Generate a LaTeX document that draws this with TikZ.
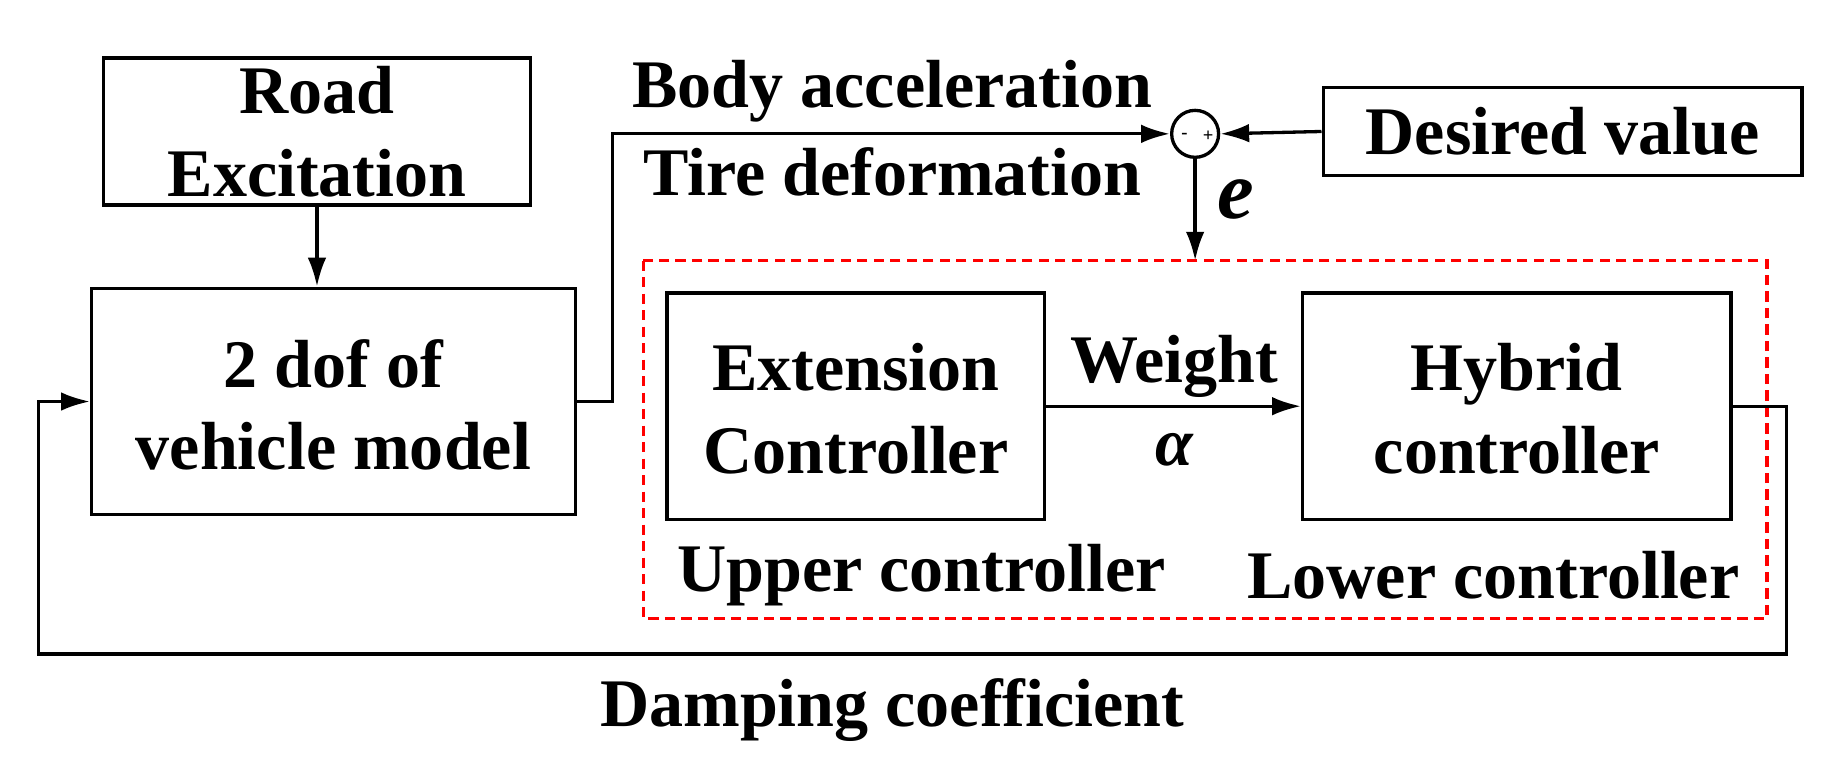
\documentclass[tikz,border=0pt]{standalone}
\usepackage{fontspec}
\setmainfont{Liberation Serif}
\usetikzlibrary{arrows.meta}
\begin{document}
\begin{tikzpicture}[x=0.02cm,y=-0.02cm,
  box/.style={draw,line width=1.6pt,inner sep=0},
  txt/.style={font=\fontsize{33}{40}\selectfont\bfseries,align=center},
  ln/.style={line width=1.6pt},
  ar/.style={ln,-{Latex[length=14pt,width=9pt]}}]
\useasboundingbox (0,0) rectangle (1569,663);
\node[box,minimum width=7.28cm,minimum height=2.5cm] (road) at (270,112) {};
\node[txt] at (270,112) {Road\\Excitation};
\node[box,minimum width=8.24cm,minimum height=3.86cm] (veh) at (284,342) {};
\node[txt] at (284,345) {2 dof of\\vehicle model};
\draw[ar] (road.south) -- (veh.north -| road.south);
\node[draw,circle,line width=1.6pt,minimum size=0.8cm,inner sep=0] (sum) at (1018,114) {};
\node[font=\bfseries\small] at (1009,116) {-};
\node[font=\bfseries\small] at (1029,116) {+};
\node[box,minimum width=8.16cm,minimum height=1.5cm] (des) at (1331,112) {};
\node[txt] at (1331,112) {Desired value};
\draw[ar] (des.west) -- (sum.east);
\coordinate (c1) at (522,342);
\coordinate (c2) at (522,114);
\draw[ar] (veh.east |- c1) -- (c1) -- (c2) -- (sum.west);
\node[txt] at (760,78) {Body acceleration};
\node[txt] at (760,146) {Tire deformation};
\draw[red,line width=1.6pt,dash pattern=on 5pt off 3pt] (548,222) rectangle (1505,527);
\coordinate (dtop) at (1018,222);
\draw[ar] (sum.south) -- (dtop);
\node[font=\fontsize{40}{40}\selectfont\bfseries\itshape] at (1053,170) {e};
\node[box,minimum width=6.44cm,minimum height=3.86cm] (ext) at (729,346) {};
\node[txt] at (729,348) {Extension\\Controller};
\node[box,minimum width=7.3cm,minimum height=3.86cm] (hyb) at (1292,346) {};
\node[txt] at (1292,348) {Hybrid\\controller};
\draw[ar] (ext.east) -- (hyb.west);
\node[txt] at (1000,312) {Weight};
\node[font=\fontsize{33}{40}\selectfont\bfseries\itshape] at (1000,383) {α};
\node[txt] at (785,490) {Upper controller};
\node[txt] at (1272,490) {Lower controller};
\coordinate (f1) at (1522,346);
\coordinate (f2) at (1522,557);
\coordinate (f3) at (33,557);
\coordinate (f4) at (33,342);
\draw[ar] (hyb.east) -- (f1) -- (f2) -- (f3) -- (f4) -- (veh.west);
\node[txt] at (760,605) {Damping coefficient};
\end{tikzpicture}
\end{document}
